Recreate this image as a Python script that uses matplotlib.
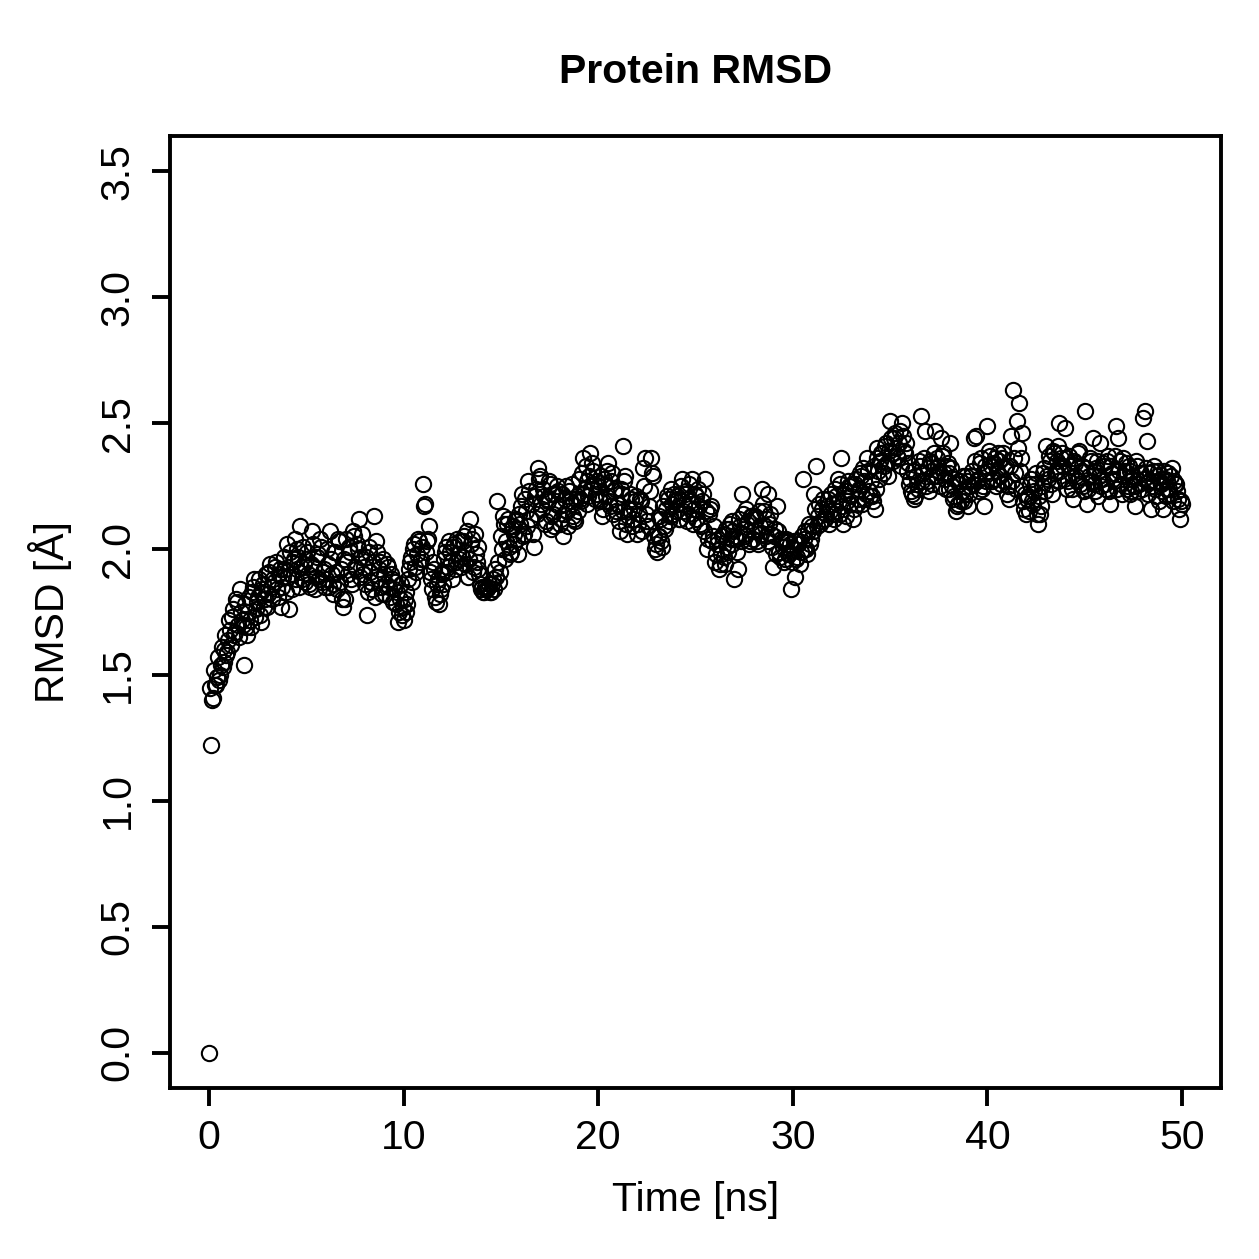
import matplotlib as mpl
mpl.use('Agg')
import matplotlib.pyplot as plt
import numpy as np

plt.rcParams['font.family'] = ['Liberation Sans', 'DejaVu Sans']

# RMSD [A], one row per ns.
# frames at k.0, k.1, ... k.9 ns
rmsd_rows = [
    [0.00, 1.22, 1.41, 1.46, 1.49, 1.48, 1.54, 1.53, 1.60, 1.58],
    [1.64, 1.68, 1.73, 1.66, 1.80, 1.70, 1.84, 1.72, 1.54, 1.69],
    [1.75, 1.72, 1.83, 1.88, 1.76, 1.81, 1.74, 1.83, 1.86, 1.80],
    [1.77, 1.91, 1.85, 1.88, 1.93, 1.84, 1.90, 1.77, 1.89, 1.92],
    [2.02, 1.76, 1.90, 1.95, 2.04, 1.92, 1.97, 2.09, 1.88, 1.94],
    [1.96, 1.90, 1.85, 2.07, 1.93, 1.89, 1.98, 2.04, 1.87, 1.92],
    [1.88, 1.94, 2.07, 1.90, 1.86, 1.99, 1.84, 2.03, 1.92, 1.77],
    [1.80, 1.95, 2.01, 1.88, 2.07, 1.93, 2.02, 2.12, 1.97, 1.90],
    [1.86, 1.74, 1.99, 1.91, 1.84, 2.13, 2.03, 1.88, 1.95, 1.82],
    [1.90, 1.86, 1.93, 1.81, 1.88, 1.84, 1.78, 1.71, 1.80, 1.74],
    [1.72, 1.83, 1.78, 1.92, 1.97, 2.00, 1.93, 1.98, 2.03, 1.96],
    [2.26, 2.18, 2.03, 2.09, 1.88, 1.95, 1.81, 1.86, 1.78, 1.84],
    [1.90, 1.96, 2.01, 1.93, 1.99, 1.88, 2.02, 1.95, 1.98, 2.03],
    [1.97, 2.05, 1.99, 1.89, 2.12, 2.04, 1.93, 1.98, 2.01, 1.90],
    [1.84, 1.83, 1.85, 1.84, 1.86, 1.83, 1.88, 1.92, 2.19, 1.87],
    [2.05, 2.13, 1.96, 2.10, 2.01, 1.99, 2.09, 2.06, 2.12, 1.98],
    [2.10, 2.22, 2.06, 2.15, 2.27, 2.12, 2.18, 2.01, 2.24, 2.32],
    [2.29, 2.16, 2.21, 2.11, 2.19, 2.26, 2.08, 2.14, 2.22, 2.25],
    [2.17, 2.12, 2.05, 2.20, 2.15, 2.23, 2.18, 2.13, 2.11, 2.21],
    [2.28, 2.19, 2.36, 2.24, 2.27, 2.21, 2.38, 2.34, 2.26, 2.22],
    [2.25, 2.19, 2.13, 2.28, 2.21, 2.34, 2.17, 2.30, 2.23, 2.15],
    [2.18, 2.07, 2.22, 2.41, 2.29, 2.06, 2.16, 2.20, 2.12, 2.19],
    [2.06, 2.14, 2.19, 2.32, 2.36, 2.11, 2.17, 2.36, 2.29, 2.00],
    [1.99, 2.05, 2.12, 2.01, 2.09, 2.16, 2.20, 2.13, 2.18, 2.22],
    [2.15, 2.20, 2.12, 2.28, 2.18, 2.23, 2.14, 2.19, 2.28, 2.16],
    [2.21, 2.12, 2.17, 2.09, 2.22, 2.28, 2.00, 2.14, 2.17, 2.05],
    [1.95, 2.02, 1.92, 1.98, 2.06, 1.94, 2.01, 2.08, 2.04, 2.11],
    [1.88, 2.04, 1.92, 2.09, 2.22, 2.06, 2.16, 2.11, 2.03, 2.13],
    [2.07, 2.12, 2.02, 2.09, 2.24, 2.15, 2.05, 2.22, 2.10, 2.06],
    [1.93, 2.08, 2.17, 1.99, 2.04, 2.01, 1.96, 2.03, 1.98, 1.84],
    [2.00, 1.89, 1.97, 2.03, 1.99, 2.28, 2.04, 2.00, 2.07, 2.02],
    [2.09, 2.22, 2.33, 2.13, 2.10, 2.16, 2.12, 2.14, 2.20, 2.15],
    [2.18, 2.12, 2.21, 2.28, 2.14, 2.36, 2.10, 2.23, 2.19, 2.25],
    [2.21, 2.12, 2.26, 2.18, 2.24, 2.29, 2.32, 2.20, 2.36, 2.23],
    [2.27, 2.19, 2.16, 2.40, 2.31, 2.35, 2.38, 2.33, 2.42, 2.29],
    [2.51, 2.38, 2.44, 2.40, 2.36, 2.47, 2.50, 2.39, 2.42, 2.34],
    [2.28, 2.22, 2.31, 2.21, 2.26, 2.35, 2.53, 2.30, 2.47, 2.27],
    [2.23, 2.34, 2.29, 2.47, 2.36, 2.31, 2.44, 2.38, 2.28, 2.33],
    [2.30, 2.42, 2.25, 2.21, 2.15, 2.18, 2.27, 2.23, 2.19, 2.29],
    [2.17, 2.25, 2.31, 2.44, 2.45, 2.28, 2.34, 2.24, 2.17, 2.30],
    [2.49, 2.39, 2.33, 2.28, 2.36, 2.31, 2.35, 2.26, 2.38, 2.32],
    [2.22, 2.20, 2.45, 2.63, 2.30, 2.51, 2.58, 2.36, 2.46, 2.16],
    [2.14, 2.21, 2.26, 2.19, 2.23, 2.30, 2.10, 2.14, 2.25, 2.32],
    [2.41, 2.28, 2.35, 2.22, 2.38, 2.31, 2.27, 2.50, 2.36, 2.33],
    [2.48, 2.24, 2.37, 2.30, 2.20, 2.34, 2.27, 2.39, 2.31, 2.25],
    [2.55, 2.18, 2.29, 2.35, 2.44, 2.26, 2.32, 2.21, 2.42, 2.28],
    [2.33, 2.24, 2.37, 2.18, 2.30, 2.27, 2.49, 2.44, 2.35, 2.22],
    [2.29, 2.34, 2.25, 2.31, 2.23, 2.28, 2.17, 2.33, 2.26, 2.30],
    [2.52, 2.55, 2.43, 2.27, 2.16, 2.31, 2.24, 2.29, 2.19, 2.26],
    [2.16, 2.28, 2.24, 2.30, 2.22, 2.32, 2.27, 2.26, 2.20, 2.12],
    [2.18],
]
# frames in between, at k.05, k.15, ... k.95 ns
rmsd_half_rows = [
    [1.45, 1.40, 1.52, 1.46, 1.57, 1.50, 1.61, 1.55, 1.66, 1.59],
    [1.72, 1.62, 1.76, 1.67, 1.79, 1.65, 1.75, 1.70, 1.78, 1.66],
    [1.81, 1.69, 1.85, 1.73, 1.79, 1.88, 1.71, 1.84, 1.77, 1.90],
    [1.82, 1.94, 1.80, 1.87, 1.95, 1.81, 1.92, 1.85, 1.97, 1.83],
    [1.89, 1.99, 1.84, 1.96, 1.88, 2.00, 1.85, 1.93, 2.01, 1.87],
    [1.99, 1.86, 1.94, 2.02, 1.84, 1.97, 1.88, 2.01, 1.91, 1.85],
    [2.00, 1.85, 1.96, 1.82, 1.99, 1.91, 2.04, 1.87, 1.80, 1.96],
    [2.04, 1.90, 1.99, 1.86, 2.05, 1.92, 2.00, 1.89, 2.06, 1.93],
    [1.97, 1.83, 2.01, 1.87, 1.95, 1.81, 1.99, 1.92, 1.85, 1.96],
    [1.82, 1.94, 1.85, 1.90, 1.79, 1.87, 1.83, 1.75, 1.86, 1.77],
    [1.80, 1.75, 1.88, 1.95, 1.87, 2.02, 1.91, 2.04, 1.95, 2.01],
    [2.17, 1.99, 2.04, 1.91, 1.84, 1.92, 1.79, 1.88, 1.82, 1.91],
    [1.86, 1.99, 1.91, 2.03, 1.95, 2.01, 1.92, 2.04, 1.96, 1.93],
    [2.03, 1.94, 2.07, 1.96, 2.02, 1.91, 2.06, 1.95, 1.92, 1.86],
    [1.85, 1.83, 1.84, 1.85, 1.83, 1.86, 1.84, 1.89, 1.95, 1.91],
    [2.00, 2.10, 2.03, 2.12, 1.98, 2.08, 2.02, 2.11, 2.04, 2.14],
    [2.17, 2.05, 2.20, 2.09, 2.23, 2.12, 2.06, 2.21, 2.14, 2.28],
    [2.18, 2.24, 2.10, 2.20, 2.27, 2.13, 2.22, 2.09, 2.18, 2.23],
    [2.10, 2.22, 2.14, 2.25, 2.09, 2.19, 2.26, 2.12, 2.20, 2.15],
    [2.20, 2.30, 2.22, 2.33, 2.18, 2.29, 2.24, 2.31, 2.20, 2.27],
    [2.20, 2.29, 2.16, 2.26, 2.31, 2.19, 2.27, 2.14, 2.24, 2.18],
    [2.11, 2.24, 2.15, 2.27, 2.10, 2.13, 2.22, 2.09, 2.16, 2.21],
    [2.10, 2.20, 2.07, 2.25, 2.14, 2.09, 2.23, 2.30, 2.05, 2.02],
    [2.05, 2.13, 2.03, 2.17, 2.08, 2.21, 2.11, 2.24, 2.14, 2.19],
    [2.21, 2.12, 2.25, 2.15, 2.22, 2.11, 2.26, 2.18, 2.10, 2.22],
    [2.12, 2.24, 2.10, 2.19, 2.07, 2.15, 2.04, 2.16, 2.03, 2.09],
    [1.98, 2.04, 1.94, 2.05, 1.97, 2.08, 1.99, 2.10, 2.02, 2.07],
    [2.05, 1.99, 2.12, 2.03, 2.14, 2.05, 2.10, 2.02, 2.13, 2.04],
    [2.13, 2.03, 2.15, 2.06, 2.18, 2.09, 2.12, 2.03, 2.14, 2.01],
    [2.05, 1.98, 2.07, 1.97, 2.03, 1.95, 2.04, 1.98, 2.02, 1.95],
    [2.03, 1.96, 2.02, 1.94, 2.05, 2.00, 2.07, 1.98, 2.10, 2.04],
    [2.07, 2.16, 2.09, 2.18, 2.11, 2.20, 2.12, 2.17, 2.10, 2.22],
    [2.14, 2.24, 2.15, 2.19, 2.26, 2.17, 2.22, 2.13, 2.27, 2.18],
    [2.26, 2.16, 2.28, 2.20, 2.30, 2.18, 2.27, 2.22, 2.31, 2.21],
    [2.21, 2.33, 2.24, 2.36, 2.28, 2.38, 2.30, 2.41, 2.34, 2.39],
    [2.44, 2.35, 2.46, 2.37, 2.42, 2.33, 2.45, 2.38, 2.31, 2.26],
    [2.23, 2.31, 2.20, 2.29, 2.24, 2.33, 2.27, 2.36, 2.25, 2.32],
    [2.35, 2.26, 2.38, 2.29, 2.33, 2.25, 2.37, 2.30, 2.24, 2.34],
    [2.24, 2.32, 2.20, 2.28, 2.17, 2.26, 2.19, 2.29, 2.22, 2.27],
    [2.22, 2.29, 2.26, 2.35, 2.27, 2.23, 2.36, 2.25, 2.33, 2.27],
    [2.31, 2.37, 2.27, 2.34, 2.25, 2.38, 2.29, 2.36, 2.27, 2.33],
    [2.25, 2.33, 2.27, 2.36, 2.24, 2.40, 2.31, 2.25, 2.19, 2.22],
    [2.20, 2.15, 2.28, 2.18, 2.26, 2.14, 2.21, 2.17, 2.30, 2.23],
    [2.29, 2.37, 2.26, 2.39, 2.30, 2.35, 2.41, 2.31, 2.38, 2.28],
    [2.36, 2.27, 2.33, 2.24, 2.35, 2.29, 2.38, 2.26, 2.33, 2.23],
    [2.32, 2.24, 2.36, 2.27, 2.31, 2.23, 2.35, 2.29, 2.25, 2.34],
    [2.26, 2.35, 2.23, 2.33, 2.28, 2.37, 2.24, 2.31, 2.26, 2.36],
    [2.31, 2.24, 2.33, 2.22, 2.29, 2.25, 2.35, 2.23, 2.30, 2.24],
    [2.28, 2.32, 2.22, 2.30, 2.25, 2.33, 2.21, 2.31, 2.27, 2.23],
    [2.31, 2.21, 2.27, 2.24, 2.29, 2.19, 2.26, 2.23, 2.16, 2.19],
]
frame_step_ns = 0.1

x_ticks = [0, 10, 20, 30, 40, 50]
y_ticks = [0.0, 0.5, 1.0, 1.5, 2.0, 2.5, 3.0, 3.5]

rmsd_main = np.array([v for row in rmsd_rows for v in row])
rmsd_half = np.array([v for row in rmsd_half_rows for v in row])
t_main = np.arange(len(rmsd_main)) * frame_step_ns
t_half = np.arange(len(rmsd_half)) * frame_step_ns + frame_step_ns / 2

order = np.argsort(np.concatenate([t_main, t_half]), kind='stable')
time_ns = np.concatenate([t_main, t_half])[order]
rmsd = np.concatenate([rmsd_main, rmsd_half])[order]

fig = plt.figure(figsize=(12.59, 12.59), dpi=100)
ax = fig.add_axes([170 / 1259, 1 - 1088 / 1259, 1051 / 1259, 952 / 1259])

ax.plot(time_ns, rmsd, linestyle='none', marker='o', markersize=11,
        markerfacecolor='none', markeredgecolor='black', markeredgewidth=1.5)

# R style: 4% padding around the data range, box around the plot
ax.set_xlim(-2, 52)
ax.set_ylim(-0.14, 3.64)
for sp in ax.spines.values():
    sp.set_linewidth(2.8)

fs = 29.5
ax.set_xticks(x_ticks)
ax.set_xticklabels([str(v) for v in x_ticks])
ax.set_yticks(y_ticks)
ax.set_yticklabels([f"{v:.1f}" for v in y_ticks], rotation=90, va='center')
ax.tick_params(direction='out', length=13, width=2.8, labelsize=fs)
ax.tick_params(axis='x', pad=9)
ax.tick_params(axis='y', pad=11)

ax.set_title("Protein RMSD", fontsize=fs, fontweight='bold', pad=38)
ax.set_xlabel("Time [ns]", fontsize=fs)
ax.set_ylabel("RMSD [Å]", fontsize=fs)
ax.xaxis.set_label_coords(0.5, -0.098)
ax.yaxis.set_label_coords(-0.093, 0.5)

fig.savefig("out.png", dpi=100)
plt.close(fig)
